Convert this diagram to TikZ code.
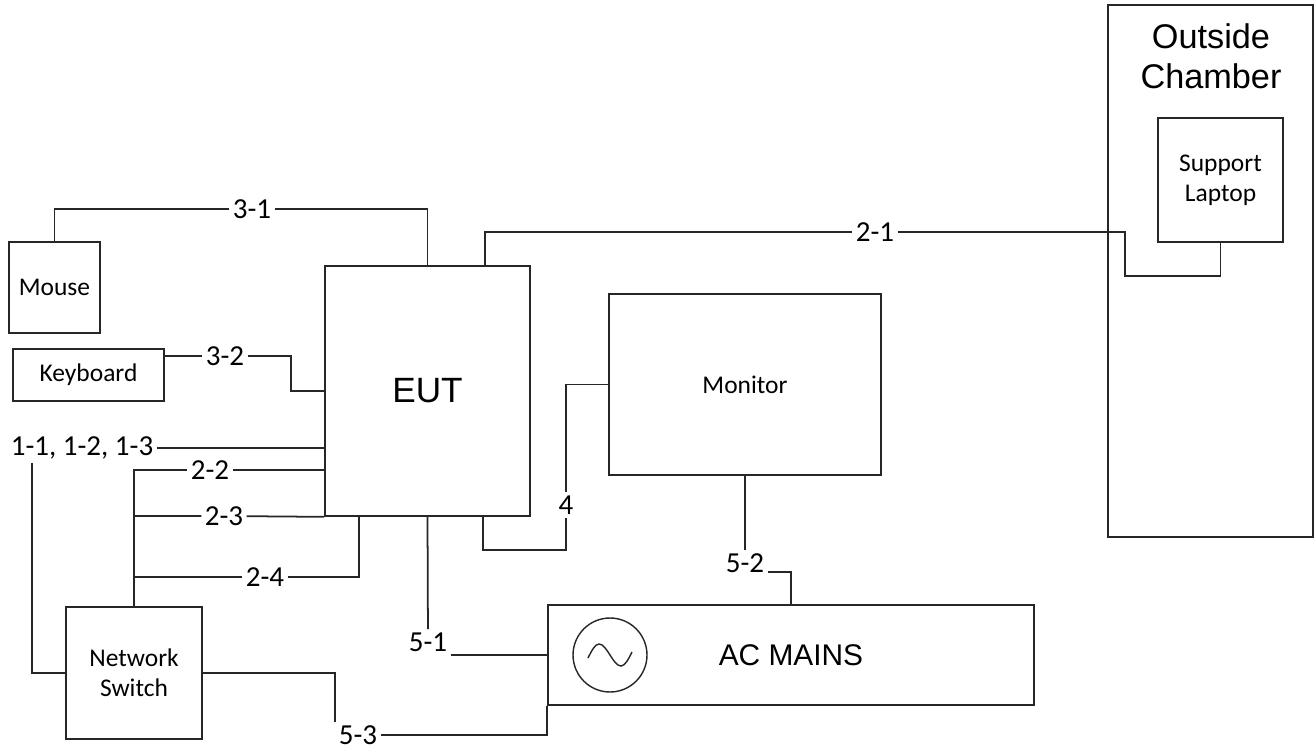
\documentclass[tikz,border=0pt]{standalone}
\usepackage{fontspec}
\setmainfont{Carlito}
\newfontfamily\arialfont{Liberation Sans}
\begin{document}
\begin{tikzpicture}[x=0.02cm,y=-0.02cm,line width=1pt,draw=black!85,
  box/.style={draw,align=center,font=\fontsize{14.5}{17}\selectfont},
  lbl/.style={inner sep=1.5pt,font=\fontsize{16.5}{19}\selectfont}]
\useasboundingbox (0,0) rectangle (1315,750);

% boxes
\node[box,minimum width=4.1cm,minimum height=10.64cm] (cham) at (1210.5,271) {};
\node[align=center,font=\arialfont\fontsize{19.5}{22.7}\selectfont] (chamt) at (1211,56) {Outside\\Chamber};
\node[box,minimum width=2.5cm,minimum height=2.48cm] (lap) at (1220.5,180) {Support\\Laptop};
\node[box,minimum width=1.82cm,minimum height=1.82cm] (mouse) at (54.5,287.5) {Mouse};
\node[box,minimum width=3.02cm,minimum height=1.04cm] (kbd) at (88.5,375) {Keyboard};
\node[box,minimum width=4.1cm,minimum height=5cm,font=\arialfont\fontsize{20}{23}\selectfont] (eut) at (427.5,391) {EUT};
\node[box,minimum width=5.44cm,minimum height=3.62cm] (mon) at (745,384.5) {Monitor};
\node[box,minimum width=9.72cm,minimum height=2cm,font=\arialfont\fontsize{17}{20}\selectfont] (acm) at (791,655) {AC MAINS};
\node[box,minimum width=2.72cm,minimum height=2.64cm] (sw) at (134,673) {Network\\Switch};

% ac source
\node[draw,circle,minimum size=1.48cm,line width=0.8pt] (src) at (610,655) {};
\draw[line width=0.8pt] (588,658) sin (599,644) cos (610,655) sin (621,666) cos (632,652);

% labels
\node[lbl] (l31) at (252,209) {3-1};
\node[lbl] (l21) at (875,232) {2-1};
\node[lbl] (l32) at (225,356) {3-2};
\node[lbl] (l11) at (82,448) {1-1, 1-2, 1-3};
\node[lbl] (l22) at (210,470) {2-2};
\node[lbl] (l23) at (224,516) {2-3};
\node[lbl] (l24) at (265,577) {2-4};
\node[lbl] (l51) at (428,642) {5-1};
\node[lbl] (l4) at (566,505) {4};
\node[lbl] (l52) at (745,563) {5-2};
\node[lbl] (l53) at (358,735) {5-3};

% cables
\draw (mouse.north) |- (l31) -| (eut.north);
\draw ([xshift=1.15cm]eut.north) |- (l21) -| (1125,276) -| (lap.south);
\draw (kbd.east |- l32) -- (l32) -| ([xshift=-0.66cm]eut.west) -- (eut.west);
\draw (l11) -- (l11 -| eut.west);
\draw ([xshift=0.5cm]l11.south west) |- (sw.west);
\draw (sw.north) |- (l22) -- (l22 -| eut.west);
\draw (sw.north |- l23) -- (l23) -- (eut.south west);
\draw (sw.north |- l24) -- (l24) -| ([xshift=0.7cm]eut.south west);
\draw (eut.south) -- (l51);
\draw (l51.east |- acm.west) -- (acm.west);
\draw ([xshift=1.11cm]eut.south) -- ++(0,33) -| (l4);
\draw (l4) |- (mon.west);
\draw (mon.south) -- (l52);
\draw ([yshift=-0.18cm]l52.east) -| (acm.north);
\draw (sw.east) -| (l53.north west);
\draw (l53.east) -| (acm.south west);
\end{tikzpicture}
\end{document}
